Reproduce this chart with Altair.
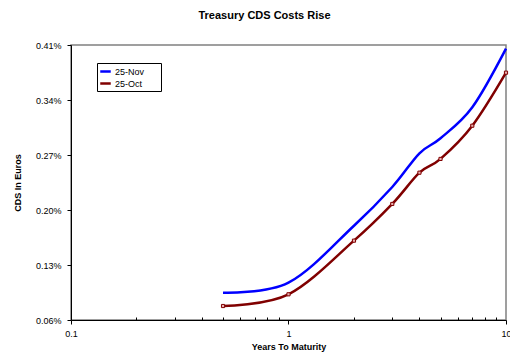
import altair as alt
import pandas as pd

# Years to maturity and CDS spreads (in %) for the two observation dates
maturity = [0.5, 1, 2, 3, 4, 5, 7, 10]
nov_25 = [0.0948, 0.1075, 0.1800, 0.2293, 0.2722, 0.2913, 0.3308, 0.4054]
oct_25 = [0.0778, 0.0927, 0.1610, 0.2077, 0.2475, 0.2650, 0.3073, 0.3748]
series_names = ["25-Nov", "25-Oct"]
series_colors = ["#0000FF", "#800000"]

y_ticks = [0.06, 0.13, 0.20, 0.27, 0.34, 0.41]
x_major = [0.1, 1, 10]
x_minor = [0.2, 0.3, 0.4, 0.5, 0.6, 0.7, 0.8, 0.9, 2, 3, 4, 5, 6, 7, 8, 9]

W, H = 435, 275
FONT = "Liberation Sans"

df = pd.DataFrame(
    {
        "maturity": maturity * 2,
        "cds": nov_25 + oct_25,
        "series": [series_names[0]] * len(maturity) + [series_names[1]] * len(maturity),
    }
)

x_scale = alt.Scale(type="log", domain=[0.1, 10], nice=False)
y_scale = alt.Scale(domain=[0.06, 0.41], nice=False, zero=False)

x_main = alt.X(
    "maturity:Q",
    scale=x_scale,
    axis=alt.Axis(
        values=x_major,
        format="~g",
        title="Years To Maturity",
        titleFontSize=9,
        titleFontWeight="bold",
        titleFont=FONT,
        titleColor="#000000",
        titleY=26,
        titleBaseline="middle",
        labelFontSize=9,
        labelFont=FONT,
        labelColor="#000000",
        labelPadding=5,
        labelFlush=False,
        tickSize=4,
        tickColor="#000000",
        domainColor="#000000",
        grid=False,
    ),
)

y_main = alt.Y(
    "cds:Q",
    scale=y_scale,
    axis=alt.Axis(
        values=y_ticks,
        labelExpr="format(datum.value, '.2f') + '%'",
        title="CDS In Euros",
        titleFontSize=9,
        titleFontWeight="bold",
        titleFont=FONT,
        titleColor="#000000",
        titleAngle=270,
        titleX=-54,
        titleY=H / 2,
        titleAlign="center",
        titleBaseline="middle",
        labelFontSize=9,
        labelFont=FONT,
        labelColor="#000000",
        labelPadding=6,
        tickSize=4,
        tickColor="#000000",
        domainColor="#000000",
        grid=False,
    ),
)

# Blank trailing glyphs widen the legend frame to leave room after the labels
label_tail = "\u2800" * 2

color = alt.Color(
    "series:N",
    scale=alt.Scale(domain=series_names, range=series_colors),
    legend=alt.Legend(
        title=None,
        orient="none",
        legendX=26,
        legendY=18,
        strokeColor="#000000",
        padding=2,
        symbolType="stroke",
        symbolSize=110,
        symbolStrokeWidth=2.5,
        labelFontSize=9,
        labelFont=FONT,
        labelColor="#000000",
        labelOffset=3,
        rowPadding=0,
        labelExpr=f"datum.label + '{label_tail}'",
    ),
)

lines = (
    alt.Chart(df)
    .mark_line(interpolate="cardinal", strokeWidth=2.5)
    .encode(x=x_main, y=y_main, color=color)
)

markers = (
    alt.Chart(df)
    .transform_filter(alt.datum.series == series_names[1])
    .mark_point(shape="square", size=10, filled=True, fill="#e8b0b0", stroke="#800000", strokeWidth=1, opacity=1)
    .encode(x=alt.X("maturity:Q", scale=x_scale, axis=None), y=alt.Y("cds:Q", scale=y_scale))
)

# Minor log ticks, drawn by a second x axis pinned to the bottom edge pointing inward
minor_df = pd.DataFrame({"maturity": x_minor})
minor = (
    alt.Chart(minor_df)
    .mark_point(opacity=0)
    .encode(
        x=alt.X(
            "maturity:Q",
            scale=x_scale,
            axis=alt.Axis(
                orient="top",
                offset=-H,
                values=x_minor,
                labels=False,
                domain=False,
                grid=False,
                title=None,
                tickSize=3,
                tickColor="#000000",
            ),
        )
    )
)

chart = (
    alt.layer(lines, markers, minor)
    .resolve_axis(x="independent")
    .properties(
        width=W,
        height=H,
        autosize=alt.AutoSizeParams(type="none"),
        padding={"left": 71, "top": 45, "right": 4, "bottom": 32},
        background="#FFFFFF",
        title=alt.TitleParams(
            "Treasury CDS Costs Rise",
            fontSize=11,
            fontWeight="bold",
            font=FONT,
            color="#000000",
            anchor="middle",
            baseline="alphabetic",
            offset=11,
            dx=-24,
        ),
    )
    .configure_view(stroke="#808080", strokeWidth=1.5)
)

chart.save("out.html", embed_options={"renderer": "svg", "actions": False})
